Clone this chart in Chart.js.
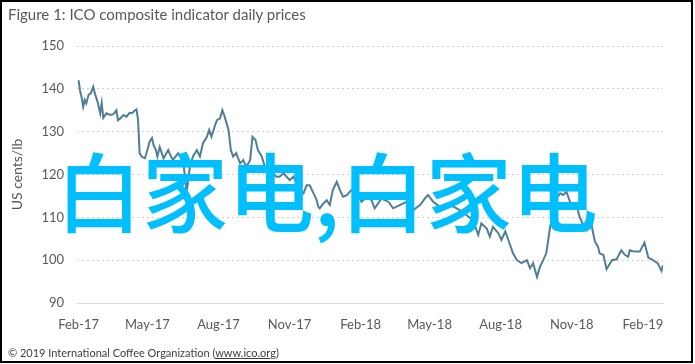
<!DOCTYPE html>
<html>
<head>
<meta charset="utf-8">
<script src="https://cdn.jsdelivr.net/npm/chart.js@4.4.1/dist/chart.umd.min.js"></script>
<style>
    body { margin: 0; background: #fff; }
    #wrap { position: relative; width: 695px; height: 364px; overflow: hidden; }
    #frame { position: absolute; left: 0; top: 0; width: 689px; height: 359px; border: 2px solid #000; }
    #title { position: absolute; left: 8px; top: 5px; font: 15px Lato, sans-serif; color: #595959; }
    #footer { position: absolute; left: 8px; top: 346px; font: 11px Lato, sans-serif; color: #404040; }
    #footer u { text-decoration: underline; }
    #mark { position: absolute; left: 56px; top: 146px; font: 500 86px "Noto Sans CJK SC", sans-serif; line-height: 1; color: #00BFFF; white-space: nowrap; }
    canvas { position: absolute; left: 0; top: 0; }
</style>
</head>
<body>
<div id="wrap">
    <canvas id="chart" width="695" height="364"></canvas>
    <div id="title">Figure 1: ICO composite indicator daily prices</div>
    <div id="footer">© 2019 International Coffee Organization (<u>www.ico.org</u>)</div>
    <div id="mark">白家电,白家电</div>
    <div id="frame"></div>
</div>
<script>
// days since 1 Feb 2017
const startDate = new Date(2017, 1, 1);
const dayOffsets = [
    0, 2, 4, 6, 8, 10, 13, 16, 19, 21, 25, 28, 30, 32, 36, 41, 45, 49, 51, 54,
    58, 62, 66, 69, 73, 75, 77, 79, 82, 86, 89, 92, 95, 97, 100, 102, 105, 110, 116, 118,
    122, 129, 135, 140, 144, 148, 153, 157, 161, 166, 169, 172, 176, 179, 183, 186, 189, 194, 197, 200,
    204, 209, 213, 217, 222, 225, 229, 232, 237, 241, 248, 256, 260, 265, 273, 278, 282, 286, 291, 295,
    299, 304, 308, 310, 312, 317, 321, 325, 329, 334, 338, 342, 347, 353, 357, 362, 366, 373, 379, 383,
    392, 401, 407, 416, 424, 433, 442, 448, 452, 459, 467, 476, 485, 493, 502, 510, 517, 521, 528, 532,
    536, 543, 547, 552, 556, 562, 567, 573, 580, 584, 588, 593, 597, 601, 605, 610, 614, 618, 623, 627,
    631, 638, 644, 648, 652, 657, 663, 668, 672, 674, 679, 683, 690, 696, 702, 707, 711, 713, 719, 726,
    732, 737, 743, 749, 754, 756
];
// ICO composite indicator, US cents/lb
const prices = [
    142.0, 139.5, 138.0, 135.8, 137.4, 136.6, 138.6, 139.0, 140.5, 139.0, 136.7, 134.3, 136.7, 133.2, 134.3, 133.9, 134.1, 135.0, 132.7, 133.1,
    133.9, 133.5, 134.4, 134.3, 135.0, 135.2, 132.7, 125.0, 124.1, 123.8, 125.7, 127.7, 128.5, 126.9, 125.7, 124.2, 126.4, 123.8, 125.7, 124.8,
    123.4, 125.0, 123.4, 116.0, 121.8, 124.2, 125.7, 124.2, 127.3, 128.8, 130.4, 128.8, 131.2, 132.7, 133.1, 135.0, 133.5, 130.4, 125.7, 124.2,
    125.0, 122.6, 123.4, 121.8, 123.4, 128.8, 128.0, 125.7, 124.2, 121.8, 121.0, 119.5, 119.5, 120.3, 118.7, 119.5, 118.0, 116.4, 115.6, 117.5,
    117.5, 115.6, 114.0, 112.5, 112.1, 113.3, 114.0, 112.9, 116.4, 118.3, 116.4, 114.8, 115.2, 116.4, 116.8, 115.2, 113.6, 114.8, 114.0, 112.1,
    114.4, 113.6, 112.1, 112.9, 113.6, 111.7, 112.9, 114.4, 115.2, 113.6, 112.5, 112.9, 112.5, 111.7, 110.5, 109.4, 105.9, 108.6, 107.4, 105.5,
    107.8, 106.3, 104.7, 106.7, 104.7, 101.6, 100.0, 99.3, 100.0, 98.1, 99.3, 96.1, 98.5, 100.0, 101.6, 107.8, 110.1, 114.4, 115.6, 115.2,
    116.0, 112.5, 112.9, 110.2, 108.5, 107.0, 108.6, 104.3, 103.1, 101.6, 101.2, 97.9, 100.0, 100.2, 102.3, 101.2, 100.8, 102.3, 102.0, 102.0,
    104.1, 100.6, 100.0, 99.3, 97.5, 98.9
];
const tickLabels = ['Feb-17', 'May-17', 'Aug-17', 'Nov-17', 'Feb-18', 'May-18', 'Aug-18', 'Nov-18', 'Feb-19'];
const yTicks = [90, 100, 110, 120, 130, 140, 150];

const monthNames = ['Jan','Feb','Mar','Apr','May','Jun','Jul','Aug','Sep','Oct','Nov','Dec'];
function labelToDay(lbl) {
    const [m, y] = lbl.split('-');
    const d = new Date(2000 + parseInt(y), monthNames.indexOf(m), 1);
    return Math.round((d - startDate) / 86400000);
}
const tickDays = tickLabels.map(labelToDay);

const points = dayOffsets.map((d, i) => ({ x: d, y: prices[i] }));

new Chart(document.getElementById('chart'), {
    type: 'line',
    data: {
        datasets: [{
            data: points,
            borderColor: '#4F7E95',
            borderWidth: 2,
            pointRadius: 0,
            tension: 0
        }]
    },
    options: {
        responsive: false,
        animation: false,
        layout: { padding: { left: 0, top: 46, right: 32, bottom: 0 } },
        plugins: { legend: { display: false }, tooltip: { enabled: false } },
        scales: {
            x: {
                type: 'linear',
                min: -2,
                max: 756,
                afterFit: (s) => { s.height = 61; },
                afterBuildTicks: (s) => { s.ticks = tickDays.map(v => ({ value: v })); },
                ticks: {
                    autoSkip: false,
                    maxRotation: 0,
                    padding: 14,
                    color: '#595959',
                    font: { family: 'Lato', size: 13 },
                    callback: (v) => tickLabels[tickDays.indexOf(v)]
                },
                grid: { display: false, drawTicks: false },
                border: { display: true, color: '#D9D9D9', width: 1 }
            },
            y: {
                min: 90,
                max: 150,
                afterFit: (s) => { s.width = 77; },
                afterBuildTicks: (s) => { s.ticks = yTicks.map(v => ({ value: v })); },
                title: {
                    display: true,
                    text: 'US cents/lb',
                    color: '#595959',
                    font: { family: 'Lato', size: 14 },
                    padding: { top: 9 }
                },
                ticks: {
                    padding: 13,
                    color: '#595959',
                    font: { family: 'Lato', size: 13 }
                },
                grid: {
                    drawTicks: false,
                    color: (ctx) => ctx.tick && ctx.tick.value === 90 ? 'rgba(0,0,0,0)' : '#CFCFCF',
                    lineWidth: 1
                },
                border: { display: false, dash: [2, 3] }
            }
        }
    }
});
</script>
</body>
</html>
